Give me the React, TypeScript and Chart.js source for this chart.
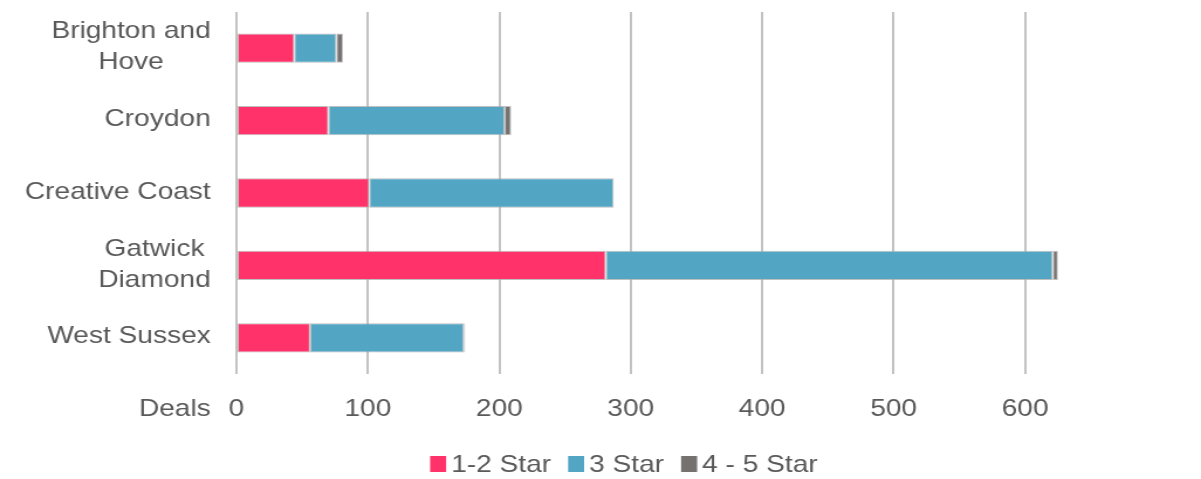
import React, { useEffect, useRef } from 'react';
import { Chart, registerables } from 'chart.js';

Chart.register(...registerables);

// ---- data ----
const categories = ['Brighton and\nHove', 'Croydon', 'Creative Coast', 'Gatwick\nDiamond', 'West Sussex'];
const seriesNames = ['1-2 Star', '3 Star', '4 - 5 Star'];
const star12 = [44, 70, 101, 281, 56];
const star3 = [32, 134, 186, 340, 117];
const star45 = [5, 5, 0, 4, 1];
const xTickValues = [0, 100, 200, 300, 400, 500, 600];
const axisTitle = 'Deals';

// ---- style ----
const COLORS = ['#FF336A', '#52A6C3', '#767171'];
const TEXT = '#595959';
const FONT_FAMILY = '"Liberation Sans", Arial, sans-serif';
const FONT_SIZE = 24;
const STRETCH = 1201 / 1026;
const CANVAS_W = 1026;
const CANVAS_H = 479;
const TICK_PAD = 21;

const overlayPlugin = {
  id: 'overlay',
  afterDraw(chart: any) {
    const ctx = chart.ctx;
    const xs = chart.scales.x;
    const ys = chart.scales.y;
    ctx.save();
    ctx.font = `${FONT_SIZE}px ${FONT_FAMILY}`;
    ctx.fillStyle = TEXT;
    ctx.textBaseline = 'middle';
    ctx.textAlign = 'center';
    const right = xs.left - 22;
    const lineH = 31;
    categories.forEach((lab, i) => {
      const lines = lab.split('\n');
      const cy = ys.getPixelForValue(i) - 1;
      const maxW = Math.max(...lines.map((l) => ctx.measureText(l).width));
      lines.forEach((l, j) => {
        const ly = cy + (j - (lines.length - 1) / 2) * lineH;
        ctx.fillText(l, right - maxW / 2, ly);
      });
    });
    // axis title "Deals" on the tick-label row
    ctx.textAlign = 'right';
    ctx.fillText(axisTitle, right, xs.top + TICK_PAD + FONT_SIZE * 0.6);

    // custom legend
    const boxW = 13.7;
    const boxH = 16;
    const gapBoxText = 4.3;
    const gapItems = 14.5;
    const widths = seriesNames.map((n) => boxW + gapBoxText + ctx.measureText(n).width);
    const total = widths.reduce((a, b) => a + b, 0) + gapItems * (seriesNames.length - 1);
    const centerX = 533;
    const ly = 464;
    let cx = centerX - total / 2;
    ctx.textAlign = 'left';
    seriesNames.forEach((n, i) => {
      ctx.fillStyle = COLORS[i];
      ctx.fillRect(cx, ly - boxH / 2, boxW, boxH);
      ctx.fillStyle = TEXT;
      ctx.fillText(n, cx + boxW + gapBoxText, ly + 1);
      cx += widths[i] + gapItems;
    });
    ctx.restore();
  },
};

export default function App() {
  const ref = useRef<HTMLCanvasElement | null>(null);

  useEffect(() => {
    if (!ref.current) return;
    const data = [star12, star3, star45];
    const chart = new Chart(ref.current, {
      type: 'bar',
      data: {
        labels: categories,
        datasets: seriesNames.map((name, i) => ({
          label: name,
          data: data[i],
          backgroundColor: COLORS[i],
          borderColor: 'rgba(170,170,170,0.75)',
          borderWidth: 1,
          borderSkipped: false,
          barPercentage: 0.405,
          categoryPercentage: 1,
        })),
      },
      options: {
        indexAxis: 'y',
        animation: false,
        responsive: false,
        devicePixelRatio: 1,
        layout: { padding: { left: 0, right: 38, top: 12, bottom: 0 } },
        plugins: {
          legend: { display: false },
          tooltip: { enabled: false },
        },
        scales: {
          x: {
            stacked: true,
            min: 0,
            max: 700,
            afterBuildTicks: (s: any) => {
              s.ticks = [...xTickValues, 700].map((v) => ({ value: v }));
            },
            afterFit: (s: any) => {
              s.height = 105;
            },
            border: { display: false },
            grid: {
              drawTicks: false,
              lineWidth: 2,
              color: (c: any) => (c.tick && c.tick.value === 700 ? 'rgba(0,0,0,0)' : '#c2c2c2'),
            },
            ticks: {
              padding: TICK_PAD,
              color: TEXT,
              font: { family: FONT_FAMILY, size: FONT_SIZE },
              maxRotation: 0,
              callback: (v: any) => (xTickValues.includes(Number(v)) ? String(v) : ''),
            },
          },
          y: {
            stacked: true,
            afterFit: (s: any) => {
              s.width = 202;
            },
            border: { display: false },
            grid: { display: false },
            ticks: { display: false },
          },
        },
      },
      plugins: [overlayPlugin],
    });
    return () => chart.destroy();
  }, []);

  return (
    <div style={{ position: 'fixed', left: 0, top: 0, width: 1201, height: 479, background: '#fff', overflow: 'hidden' }}>
      <canvas
        ref={ref}
        width={CANVAS_W}
        height={CANVAS_H}
        style={{ width: `${CANVAS_W * STRETCH}px`, height: `${CANVAS_H}px`, display: 'block' }}
      />
    </div>
  );
}
